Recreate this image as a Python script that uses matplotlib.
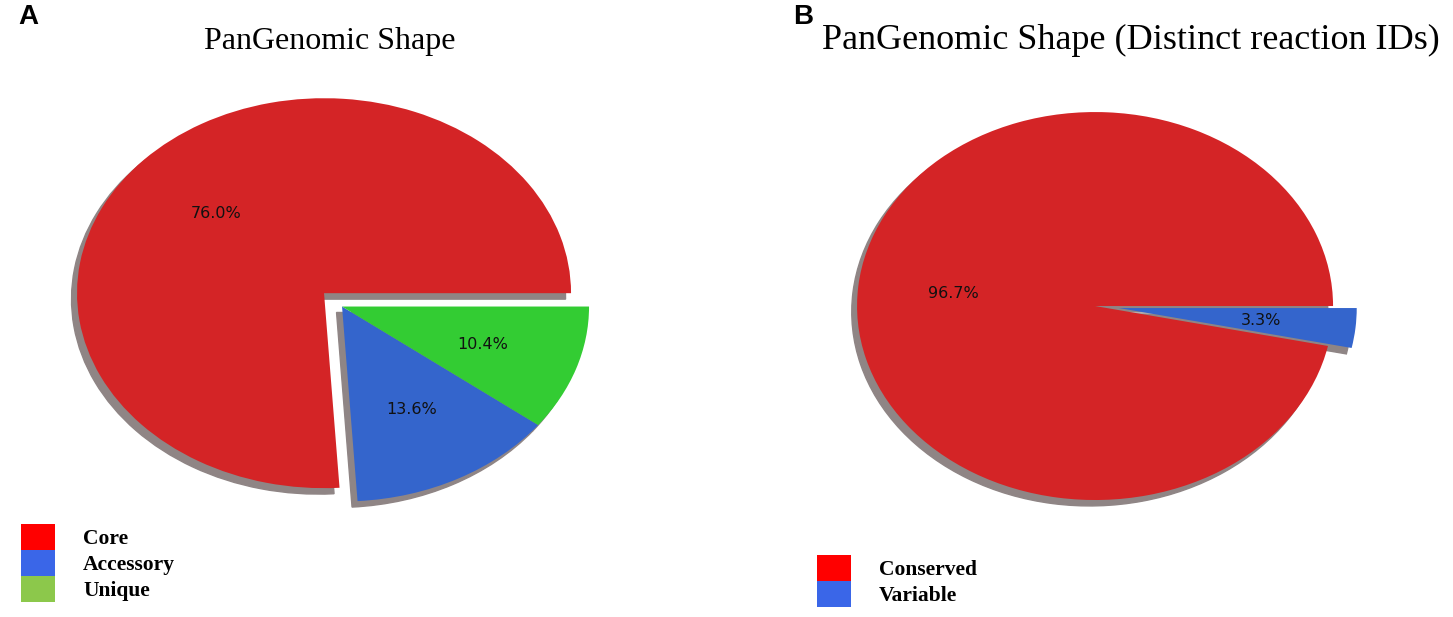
import matplotlib
matplotlib.use("Agg")
import matplotlib.pyplot as plt
from matplotlib.patches import Patch

# panel A data
labels_a = ["Core", "Accessory", "Unique"]
values_a = [76.0, 13.6, 10.4]
explode_a = [0.1, 0, 0]

# panel B data
labels_b = ["Conserved", "Variable"]
values_b = [96.7, 3.3]
explode_b = [0, 0.1]

pie_red = "#d42426"
pie_blue = "#3465cc"
pie_green = "#33cc33"
leg_red = "#ff0000"
leg_blue = "#3a66e8"
leg_green = "#8cc84b"

serif = ["Liberation Serif", "DejaVu Serif"]

fig = plt.figure(figsize=(14.53, 6.17), dpi=100)

shadow = dict(ox=-0.016, oy=-0.022, facecolor="#8f8585", edgecolor="#8f8585", alpha=1.0)


def draw_pie(rect, values, explode, colors):
    ax = fig.add_axes(rect)
    wedges, texts, autotexts = ax.pie(values, explode=explode, colors=colors,
                                      autopct="%1.1f%%", shadow=shadow,
                                      textprops=dict(fontsize=11.5, color="#111111"))
    ax.set_aspect("auto")
    ax.set_xlim(-1.25, 1.25)
    ax.set_ylim(-1.25, 1.25)
    return ax


draw_pie([0.0229, 0.1082, 0.425, 0.790], values_a, explode_a, [pie_red, pie_blue, pie_green])
draw_pie([0.5489, 0.111, 0.4095, 0.786], values_b, explode_b, [pie_red, pie_blue])

# titles and panel letters
fig.text(330 / 1453, 1 - 41 / 617, "PanGenomic Shape", family=serif, fontsize=23,
         ha="center", va="center")
fig.text(1131 / 1453, 1 - 40 / 617, "PanGenomic Shape (Distinct reaction IDs)", family=serif,
         fontsize=26, ha="center", va="center")
fig.text(18 / 1453, 1 - 17 / 617, "A", fontsize=20, fontweight="bold", family="Liberation Sans",
         va="center")
fig.text(793 / 1453, 1 - 17 / 617, "B", fontsize=20, fontweight="bold", family="Liberation Sans",
         va="center")

# legends: contiguous colour blocks
leg_kw = dict(frameon=False, loc="upper left", borderpad=0, borderaxespad=0,
              labelspacing=0, handlelength=1.58, handleheight=1.48, handletextpad=1.3,
              prop=dict(family=serif, weight="bold", size=15.5))
h_a = [Patch(facecolor=c, edgecolor="none") for c in [leg_red, leg_blue, leg_green]]
fig.legend(h_a, labels_a, bbox_to_anchor=(21 / 1453, 1 - 524 / 617), **leg_kw)
h_b = [Patch(facecolor=c, edgecolor="none") for c in [leg_red, leg_blue]]
fig.legend(h_b, labels_b, bbox_to_anchor=(817 / 1453, 1 - 555 / 617), **leg_kw)

fig.savefig("out.png", dpi=100)
